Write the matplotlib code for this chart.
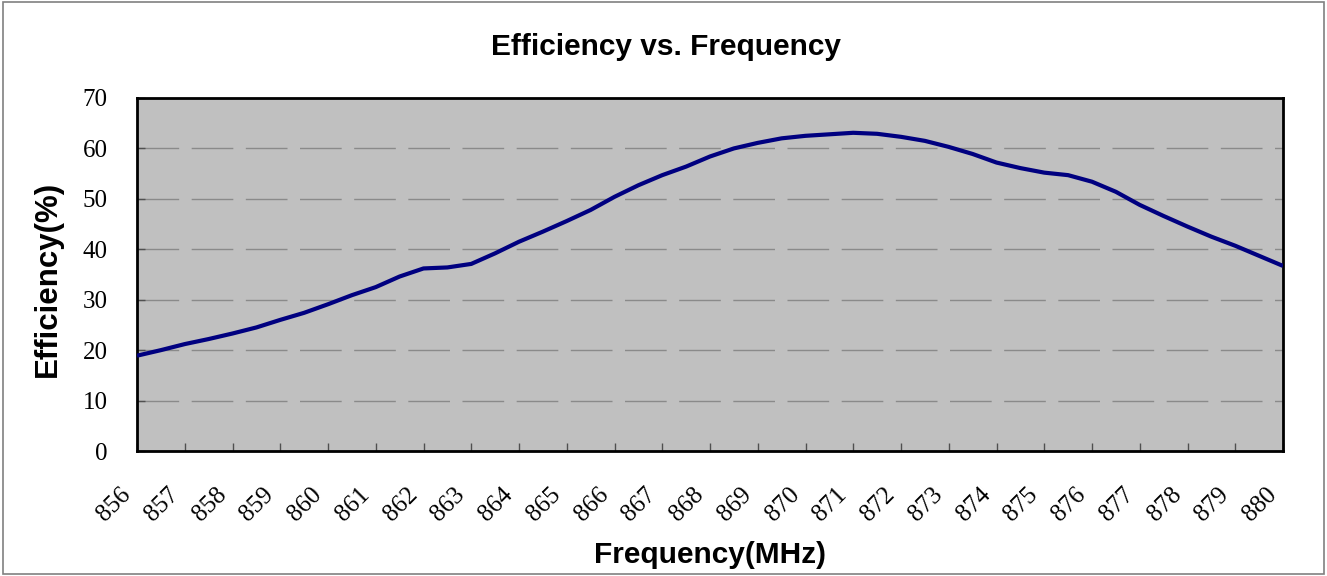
import matplotlib.pyplot as plt
from matplotlib.patches import Rectangle
from matplotlib.transforms import ScaledTranslation

# frequency (MHz) and efficiency (%), every 0.5 MHz
freq = [856, 856.5, 857, 857.5, 858, 858.5, 859, 859.5, 860, 860.5,
        861, 861.5, 862, 862.5, 863, 863.5, 864, 864.5, 865, 865.5,
        866, 866.5, 867, 867.5, 868, 868.5, 869, 869.5, 870, 870.5,
        871, 871.5, 872, 872.5, 873, 873.5, 874, 874.5, 875, 875.5,
        876, 876.5, 877, 877.5, 878, 878.5, 879, 879.5, 880]
eff = [18.9, 20.0, 21.2, 22.2, 23.3, 24.5, 26.0, 27.4, 29.1, 30.9,
       32.5, 34.6, 36.2, 36.4, 37.1, 39.2, 41.5, 43.5, 45.6, 47.8,
       50.4, 52.7, 54.7, 56.4, 58.4, 60.0, 61.1, 62.0, 62.5, 62.8,
       63.1, 62.9, 62.3, 61.5, 60.3, 58.9, 57.2, 56.1, 55.2, 54.7,
       53.4, 51.4, 48.8, 46.6, 44.5, 42.5, 40.7, 38.7, 36.7]
xticks = list(range(856, 881))
yticks = [0, 10, 20, 30, 40, 50, 60, 70]

fig = plt.figure(figsize=(13.27, 5.76), dpi=100)
fig.patches.append(Rectangle((0.002, 0.003), 0.996, 0.994, transform=fig.transFigure,
                             fill=False, edgecolor='#808080', linewidth=1.2))
ax = fig.add_axes([137/1327, 1-451/576, (1283-137)/1327, (451-98)/576])
ax.set_facecolor('#c0c0c0')

ax.plot(freq, eff, color='#000080', linewidth=3.0, solid_joinstyle='round',
        solid_capstyle='butt', zorder=3)

ax.set_xlim(856, 880)
ax.set_ylim(0, 70)
ax.set_yticks(yticks)
ax.set_xticks(xticks)
ax.set_xticklabels([str(x) for x in xticks], rotation=45, ha='right', va='center',
                   rotation_mode='anchor')
ax.yaxis.grid(True, color='#8a8a8a', linestyle=(0, (30, 9)), linewidth=1.0)
ax.set_axisbelow(True)

ax.tick_params(axis='both', direction='in', length=6, width=1, color='#505050')
ax.tick_params(axis='y', pad=21)
ax.tick_params(axis='x', pad=29)
shift = ScaledTranslation(-7/72, 0, fig.dpi_scale_trans)
for lab in ax.get_xticklabels():
    lab.set_transform(lab.get_transform() + shift)
for lab in ax.get_xticklabels() + ax.get_yticklabels():
    lab.set_family('Liberation Serif')
    lab.set_fontsize(18)
for s in ax.spines.values():
    s.set_linewidth(2)
    s.set_color('black')

fig.text(666/1327, 1-47/576, 'Efficiency vs. Frequency', ha='center', va='center',
         family='Liberation Sans', fontweight='bold', fontsize=21.5)
fig.text(710/1327, 1-555/576, 'Frequency(MHz)', ha='center', va='center',
         family='Liberation Sans', fontweight='bold', fontsize=21.5)
fig.text(48/1327, 1-279/576, 'Efficiency(%)', ha='center', va='center', rotation=90,
         family='Liberation Sans', fontweight='bold', fontsize=22.5)

fig.savefig('out.png', dpi=100)
